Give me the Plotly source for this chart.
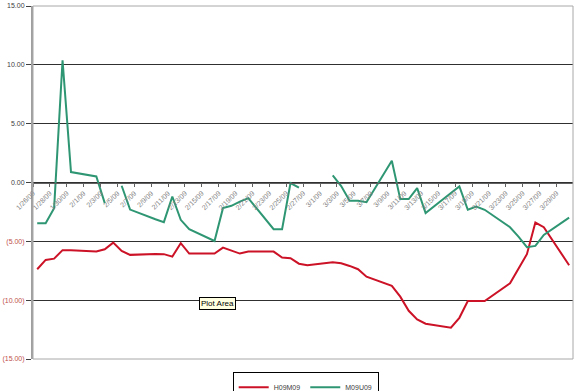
import plotly.graph_objects as go

# ---- data ----
DATES = [
    "2009-01-26", "2009-01-27", "2009-01-28", "2009-01-29", "2009-01-30",
    "2009-02-02", "2009-02-03", "2009-02-04", "2009-02-05", "2009-02-06",
    "2009-02-09", "2009-02-10", "2009-02-11", "2009-02-12", "2009-02-13",
    "2009-02-16", "2009-02-17", "2009-02-18", "2009-02-19", "2009-02-20",
    "2009-02-23", "2009-02-24", "2009-02-25", "2009-02-26", "2009-02-27",
    "2009-03-02", "2009-03-03", "2009-03-04", "2009-03-05", "2009-03-06",
    "2009-03-09", "2009-03-10", "2009-03-11", "2009-03-12", "2009-03-13",
    "2009-03-16", "2009-03-17", "2009-03-18", "2009-03-19", "2009-03-20",
    "2009-03-23", "2009-03-24", "2009-03-25", "2009-03-26", "2009-03-27",
    "2009-03-30",
]

H09M09 = [
    -7.37, -6.58, -6.47, -5.75, -5.75,
    -5.87, -5.67, -5.11, -5.81, -6.15,
    -6.07, -6.09, -6.30, -5.16, -6.04,
    -6.04, -5.53, -5.81, -6.04, -5.87,
    -5.87, -6.38, -6.43, -6.90, -7.03,
    -6.77, -6.86, -7.09, -7.37, -8.00,
    -8.79, -9.70, -10.90, -11.63, -12.00,
    -12.34, -11.50, -10.07, -10.07, -10.07,
    -8.56, -7.37, -6.09, -3.40, -3.80,
    -7.03,
]

M09U09 = [
    -3.46, -3.46, -2.18, 10.38, 0.89,
    0.51, -1.75, None, -0.28, -2.30,
    -3.12, -3.37, -1.19, -3.17, -3.97,
    -4.97, -2.18, -1.98, -1.62, -1.33,
    -3.97, -3.97, -0.05, -0.44, None,
    0.60, -0.30, -1.56, -1.56, -1.67,
    1.85, -1.41, -1.41, -0.48, -2.60,
    -0.90, -0.34, -2.32, -2.04, -2.32,
    -3.80, -4.60, -5.50, -5.39, -4.45,
    -2.98,
]

SERIES_NAMES = ["H09M09", "M09U09"]
Y_TICKS = [-15, -10, -5, 0, 5, 10, 15]
X_RANGE = ["2009-01-26", "2009-03-30 23:00"]
X_TICK_START = "2009-01-26"


def fmt(v):
    if v < 0:
        return '<span style="color:#c0504d">(%.2f)</span>' % abs(v)
    return "%.2f" % v


fig = go.Figure()
fig.add_trace(go.Scatter(
    x=DATES, y=H09M09, name=SERIES_NAMES[0], mode="lines",
    line=dict(color="#cc1226", width=2),
    xperiod=86400000, xperiodalignment="middle",
))
fig.add_trace(go.Scatter(
    x=DATES, y=M09U09, name=SERIES_NAMES[1], mode="lines",
    line=dict(color="#2f9674", width=2), connectgaps=False,
    xperiod=86400000, xperiodalignment="middle",
))

fig.update_layout(
    width=580, height=391,
    margin=dict(l=33, r=7, t=6, b=32, autoexpand=False),
    paper_bgcolor="white", plot_bgcolor="white",
    font=dict(family="Liberation Sans, Arial", size=7, color="#404040"),
    legend=dict(
        orientation="h", x=0.505, xanchor="center", y=-0.036, yanchor="top",
        bordercolor="#000000", borderwidth=1, bgcolor="white",
        font=dict(size=7, color="#404040"), itemwidth=30, tracegroupgap=0,
    ),
    xaxis=dict(
        type="date", range=X_RANGE, anchor="free", position=0.5,
        showgrid=False, zeroline=False,
        showline=True, linecolor="#606060", linewidth=1,
        ticks="outside", ticklen=3, tickcolor="#606060",
        tick0=X_TICK_START, dtick=2 * 86400000,
        tickformat="%-m/%-d/%y", tickangle=-45,
        tickfont=dict(size=7, color="#808080"),
    ),
    yaxis=dict(
        range=[-15, 15], tickvals=Y_TICKS, ticktext=[fmt(v) for v in Y_TICKS],
        showgrid=True, gridcolor="#303030", gridwidth=1, zeroline=False,
        showline=True, linecolor="#a0a0a0", linewidth=2,
        ticks="outside", ticklen=5, tickcolor="#404040",
        tickfont=dict(size=7, color="#404040"),
    ),
    shapes=[dict(
        type="rect", xref="paper", yref="paper", x0=0, x1=1, y0=0, y1=1,
        line=dict(color="#a8a8a8", width=1), layer="above",
    )],
    annotations=[dict(
        text="Plot Area", xref="paper", yref="paper", x=0.341, y=0.14,
        showarrow=False, bgcolor="#ffffe1", bordercolor="#000000",
        borderwidth=1, borderpad=1, font=dict(size=8, color="#000000"),
    )],
)

fig.write_html("out.html")
